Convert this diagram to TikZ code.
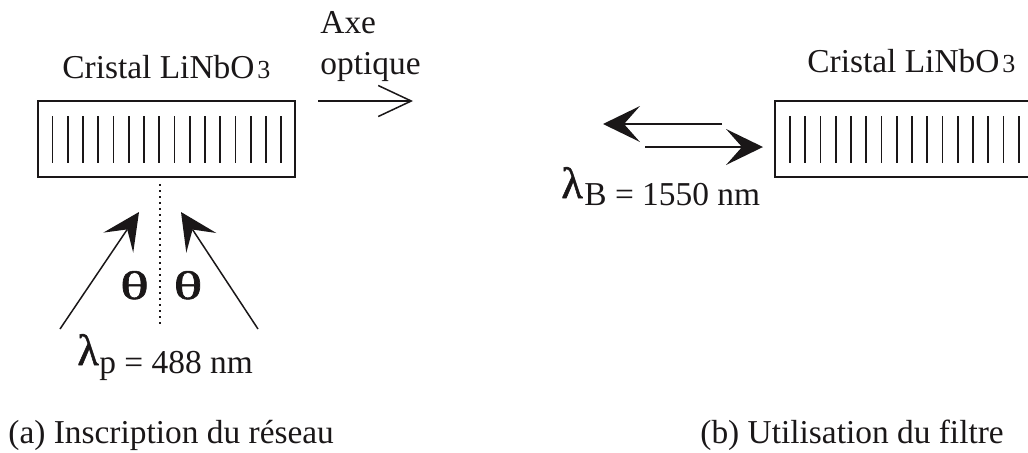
\documentclass[tikz,border=0pt]{standalone}
\usepackage{fontspec}
\setmainfont{Liberation Serif}
\newfontfamily\grecfont[FakeBold = 1.2]{Liberation Serif}
\usetikzlibrary{arrows.meta}
\definecolor{trait noir}{HTML}{1A1718}
\tikzset{
  cristal/.style = {draw = trait noir, line width = 1pt, minimum width = 128.5pt, minimum height = 38pt, inner sep = 0pt},
  texte/.style = {text = trait noir, font = \fontsize{16.7}{18}\selectfont, inner sep = 0pt, anchor = base west},
  indice/.style = {text = trait noir, font = \fontsize{13}{14}\selectfont, inner sep = 0pt, anchor = base west},
  lettre/.style = {text = trait noir, font = \fontsize{22}{24}\selectfont\grecfont, inner sep = 0pt, anchor = base west},
  angle theta/.style = {text = trait noir, font = \fontsize{20}{22}\selectfont\grecfont, inner sep = 0pt, anchor = base, xscale = 1.5},
  faisceau/.style = {draw = trait noir, line width = 0.75pt, -{Stealth[length = 18.5pt, width = 18pt, inset = 8pt, line width = 0pt]}}
}
\begin{document}
\begin{tikzpicture}[x = 0.5pt, y = -0.5pt]
      \useasboundingbox (0, 0) rectangle (1028, 452);

      % cristal (a)
      \node[cristal] (cristalA) at (166.5, 139) {};
      \foreach \i in {0, 1, ..., 15} {\draw[trait noir, line width = 0.9pt] (52.5 + \i*15.25, 116) -- +(0, 47);}
      \node[texte] (titreA) at (62, 78) {Cristal LiNbO};
      \node[indice] (troisA) at (257, 78) {3};

      % axe optique
      \node[texte] (axe) at (320, 33) {Axe};
      \node[texte] (optique) at (320, 74) {optique};
      \coordinate (axeD) at (318, 101);
      \coordinate (axeF) at (413, 101);
      \draw[trait noir, line width = 0.75pt, -{Straight Barb[length = 16.5pt, width = 15.5pt]}] (axeD) -- (axeF);

      % faisceaux pompe
      \coordinate (normD) at (159.5, 184);
      \coordinate (normF) at (159.5, 327);
      \draw[trait noir, line width = 1pt, dotted] (normD) -- (normF);
      \coordinate (pompeGD) at (60, 329);
      \coordinate (pompeGF) at (139, 212);
      \coordinate (pompeDD) at (258, 329);
      \coordinate (pompeDF) at (181, 212);
      \draw[faisceau] (pompeGD) -- (pompeGF);
      \draw[faisceau] (pompeDD) -- (pompeDF);
      \node[angle theta] (thetaG) at (134.5, 299) {θ};
      \node[angle theta] (thetaD) at (188, 299) {θ};
      \node[lettre] (lambdaP) at (77, 365) {λ};
      \node[texte] (valeurP) at (99, 373) {p = 488 nm};

      % cristal (b)
      \node[cristal] (cristalB) at (903.5, 139) {};
      \foreach \i in {0, 1, ..., 15} {\draw[trait noir, line width = 0.9pt] (790 + \i*15.25, 116) -- +(0, 47);}
      \node[texte] (titreB) at (807, 72) {Cristal LiNbO};
      \node[indice] (troisB) at (1002, 72) {3};

      % faisceaux reflechi et incident
      \coordinate (retourD) at (722, 124);
      \coordinate (retourF) at (603, 124);
      \coordinate (allerD) at (645, 147);
      \coordinate (allerF) at (763, 147);
      \draw[faisceau] (retourD) -- (retourF);
      \draw[faisceau] (allerD) -- (allerF);
      \node[lettre] (lambdaB) at (561, 198) {λ};
      \node[texte] (valeurB) at (584, 205) {B = 1550 nm};

      % legendes
      \node[texte] (legendeA) at (8, 443) {(a) Inscription du réseau};
      \node[texte] (legendeB) at (700, 443) {(b) Utilisation du filtre};
    \end{tikzpicture}
\end{document}
